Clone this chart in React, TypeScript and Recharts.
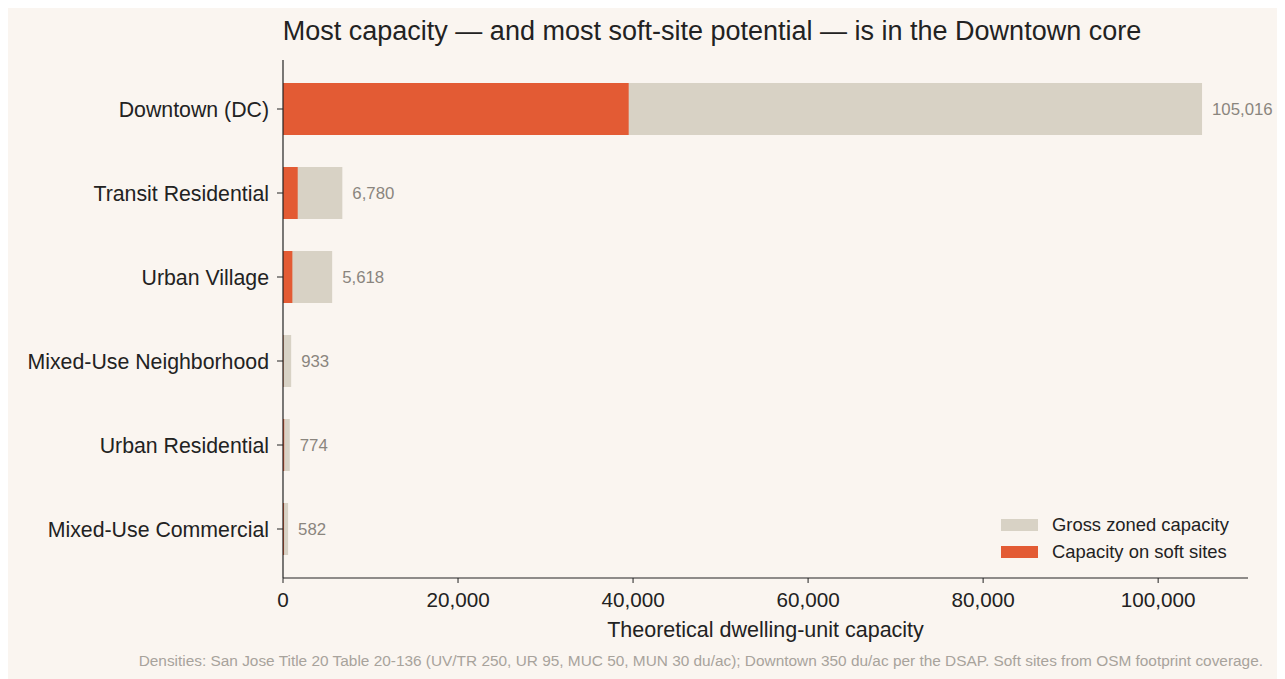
import React from "react";
import { BarChart, Bar, XAxis, YAxis, LabelList, Legend, Label } from "recharts";

const categories = [
  "Downtown (DC)",
  "Transit Residential",
  "Urban Village",
  "Mixed-Use Neighborhood",
  "Urban Residential",
  "Mixed-Use Commercial",
];
const grossCapacity = [105016, 6780, 5618, 933, 774, 582];
const softCapacity = [39500, 1680, 1070, 50, 140, 120];
const xTicks = [0, 20000, 40000, 60000, 80000, 100000];
const legendOrder = ["Gross zoned capacity", "Capacity on soft sites"];

const data = categories.map((name, i) => ({
  name,
  gross: grossCapacity[i],
  soft: softCapacity[i],
}));

const FONT = "'Liberation Sans', Arial, Helvetica, sans-serif";
const BG = "#faf5f0";
const GROSS = "#d8d2c5";
const SOFT = "#e35b34";
const INK = "#222222";

const fmt = (v: number) => v.toLocaleString("en-US");

const LegendBox = (props: any) => {
  const payload = [...(props.payload || [])].sort(
    (a: any, b: any) => legendOrder.indexOf(a.value) - legendOrder.indexOf(b.value)
  );
  return (
    <div style={{ fontFamily: FONT, fontSize: 18.4, color: INK }}>
      {payload.map((p: any, i: number) => (
        <div key={i} style={{ display: "flex", alignItems: "center", height: 26.5 }}>
          <div style={{ width: 37, height: 12, background: p.color, marginRight: 14 }} />
          <span>{p.value}</span>
        </div>
      ))}
    </div>
  );
};

export default function App() {
  return (
    <div style={{ position: "relative", width: 1277, height: 671, background: BG, fontFamily: FONT, overflow: "hidden" }}>
      <style>{"html,body{overflow:hidden}"}</style>
      <div
        style={{
          position: "absolute",
          left: 0,
          width: 1408,
          top: 7,
          textAlign: "center",
          fontSize: 27,
          color: INK,
          lineHeight: "32px",
          whiteSpace: "nowrap",
        }}
      >
        Most capacity — and most soft-site potential — is in the Downtown core
      </div>
      <BarChart
        width={1277}
        height={671}
        data={data}
        layout="vertical"
        margin={{ top: 52, right: 37, bottom: 41, left: 5 }}
        barSize={52}
        barGap={-52}
      >
        <XAxis
          type="number"
          domain={[0, 110267]}
          ticks={xTicks}
          tickFormatter={fmt}
          allowDataOverflow
          height={60}
          tick={{ fill: INK, fontSize: 20.7, fontFamily: FONT }}
          tickLine={{ stroke: INK }}
          tickSize={5}
          tickMargin={9}
          axisLine={{ stroke: INK, strokeWidth: 1.2 }}
        >
          <Label
            value="Theoretical dwelling-unit capacity"
            position="insideBottom"
            offset={1}
            style={{ fill: INK, fontSize: 21.5, fontFamily: FONT }}
          />
        </XAxis>
        <YAxis
          type="category"
          dataKey="name"
          width={270}
          padding={{ top: 7, bottom: 7 }}
          tick={{ fill: INK, fontSize: 21.3, fontFamily: FONT }}
          tickLine={{ stroke: INK }}
          tickSize={6}
          tickMargin={8}
          axisLine={{ stroke: INK, strokeWidth: 1.2 }}
        />
        <Legend
          content={<LegendBox />}
          layout="vertical"
          align="center"
          verticalAlign="middle"
          wrapperStyle={{ position: "absolute", left: 993, top: 504, width: 260, bottom: "auto", right: "auto" }}
        />
        <Bar dataKey="gross" name="Gross zoned capacity" fill={GROSS} isAnimationActive={false}>
          <LabelList
            dataKey="gross"
            position="right"
            offset={10}
            formatter={(v: any) => fmt(Number(v))}
            style={{ fill: "#8a857e", fontSize: 16.8, fontFamily: FONT }}
          />
        </Bar>
        <Bar dataKey="soft" name="Capacity on soft sites" fill={SOFT} isAnimationActive={false} />
      </BarChart>
      <div
        style={{
          position: "absolute",
          right: 22,
          top: 644,
          fontSize: 15.4,
          color: "#a8a39c",
          whiteSpace: "nowrap",
        }}
      >
        Densities: San Jose Title 20 Table 20-136 (UV/TR 250, UR 95, MUC 50, MUN 30 du/ac); Downtown 350 du/ac per the DSAP. Soft sites from OSM footprint coverage.
      </div>
    </div>
  );
}
